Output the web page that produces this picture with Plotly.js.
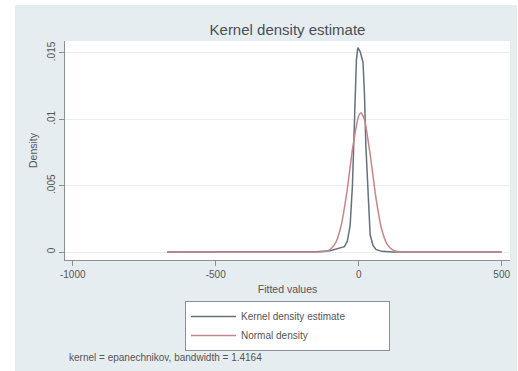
<!DOCTYPE html>
<html>
<head>
<meta charset="utf-8">
<script src="https://cdn.plot.ly/plotly-3.0.1.min.js"></script>
<style>
html,body{margin:0;padding:0;background:#ffffff;}
#chart{width:518px;height:371px;}
</style>
</head>
<body>
<div id="chart"></div>
<script>
// Kernel density estimate
const kernelX = [-670, -300, -150, -100, -80, -60, -50, -40, -30, -22, -15, -8, -3, 5, 15, 20, 25, 30, 35, 40, 50, 60, 80, 120, 500];
const kernelY = [0, 0, 0.00003, 0.0001, 0.0002, 0.0003, 0.0004, 0.0008, 0.002, 0.005, 0.010, 0.0145, 0.0154, 0.0151, 0.0143, 0.012, 0.008, 0.0055, 0.0028, 0.0013, 0.0005, 0.0002, 0.00005, 0, 0];
// Normal density
const normalX = [-670, -200, -140, -120, -100, -80, -60, -40, -20, 0, 8, 20, 40, 60, 80, 100, 120, 140, 200, 500];
const normalY = [0, 0, 0.00001, 0.00004, 0.00019, 0.00072, 0.00212, 0.00473, 0.0080, 0.01027, 0.0105, 0.00999, 0.00736, 0.00412, 0.00174, 0.00056, 0.00014, 0.00002, 0, 0];
const seriesNames = ["Kernel density estimate", "Normal density"];
const xTickVals = [-1000, -500, 0, 500];
const xTickText = ["-1000", "-500", "0", "500"];
const yTickVals = [0, 0.005, 0.01, 0.015];
const yTickText = ["0", ".005", ".01", ".015"];
const noteText = "kernel = epanechnikov, bandwidth = 1.4164";

// pad legend labels so the legend box is as wide as the reference's
const pad = "\u00a0".repeat(14);

const data = [
  {x: kernelX, y: kernelY, type: "scatter", mode: "lines", name: seriesNames[0] + pad,
   line: {color: "#66717d", width: 1.5}},
  {x: normalX, y: normalY, type: "scatter", mode: "lines", name: seriesNames[1],
   line: {color: "#c4868d", width: 1.5, shape: "spline", smoothing: 0.6}}
];

const fontFam = "Liberation Sans, Arial, sans-serif";
const layout = {
  width: 518, height: 371,
  paper_bgcolor: "#ffffff",
  plot_bgcolor: "#ffffff",
  margin: {l: 65, r: 8, t: 41, b: 111, pad: 0},
  font: {family: fontFam, color: "#555555", size: 10},
  title: {text: "Kernel density estimate", font: {size: 15, color: "#4a4f55", family: fontFam},
          x: 0.5, xref: "paper", xanchor: "center", y: 1 - 30/371, yref: "container", yanchor: "middle"},
  shapes: [
    {type: "rect", xref: "paper", yref: "paper", layer: "below",
     x0: -50/445, x1: 1 + 7/445, y0: -111/219, y1: 1 + 36/219,
     fillcolor: "#e6edf0", line: {width: 0}},
    {type: "rect", xref: "paper", yref: "paper", layer: "below",
     x0: 0, x1: 1, y0: 0, y1: 1, fillcolor: "#ffffff", line: {width: 0}}
  ],
  xaxis: {
    range: [-1027, 529], tickvals: xTickVals, ticktext: xTickText,
    showgrid: false, zeroline: false, showline: true, linecolor: "#8a8f94", linewidth: 1,
    ticks: "outside", ticklen: 5, tickcolor: "#8a8f94", tickfont: {size: 10, color: "#555"},
    title: {text: "Fitted values", font: {size: 10.5, color: "#555"}, standoff: 6}
  },
  yaxis: {
    range: [-0.0006, 0.0159], tickvals: yTickVals, ticktext: yTickText,
    showgrid: true, gridcolor: "#eceff1", gridwidth: 1,
    zeroline: false, showline: true, linecolor: "#8a8f94", linewidth: 1,
    ticks: "outside", ticklen: 5, tickcolor: "#8a8f94", tickangle: -90,
    tickfont: {size: 10, color: "#555"},
    title: {text: "Density", font: {size: 10.5, color: "#555"}, standoff: 6}
  },
  showlegend: true,
  legend: {
    orientation: "v",
    x: (185 - 65) / 445, xanchor: "left", xref: "paper",
    y: (260 - 301) / 219, yanchor: "top", yref: "paper",
    bgcolor: "#ffffff", bordercolor: "#8a8f94", borderwidth: 1,
    font: {size: 10, color: "#555"},
    tracegroupgap: 0, itemwidth: 45
  },
  annotations: [
    {text: noteText, xref: "paper", yref: "paper", x: 2 / 445, y: (260 - 357) / 219,
     xanchor: "left", yanchor: "middle", showarrow: false, font: {size: 10, color: "#555"}}
  ]
};

Plotly.newPlot("chart", data, layout, {displayModeBar: false, staticPlot: true});
</script>
</body>
</html>
